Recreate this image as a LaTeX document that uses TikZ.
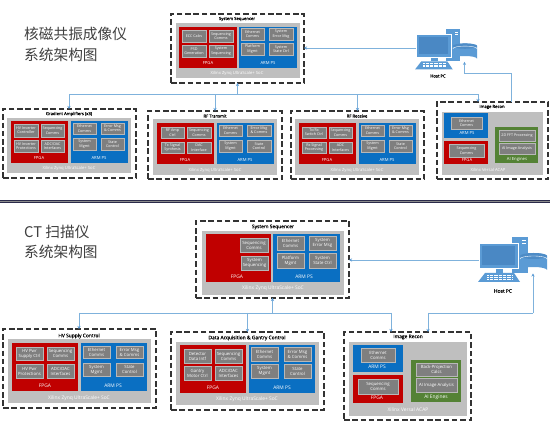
\documentclass[tikz,border=0pt]{standalone}
\usepackage{fontspec}
\setmainfont{Open Sans}
\newfontfamily\cjkfam{Noto Sans CJK SC}
\newfontfamily\semifam[FakeBold=0.3]{Open Sans}
\usetikzlibrary{arrows.meta}
\definecolor{cred}{HTML}{C00000}
\definecolor{cblue}{HTML}{0A6FC2}
\definecolor{cgreen}{HTML}{548235}
\definecolor{cgrey}{HTML}{BFBFBF}
\definecolor{cinner}{HTML}{7F7F7F}
\definecolor{cline}{HTML}{7FB2DC}
\definecolor{cicon}{HTML}{5B9BD5}
\definecolor{cicondk}{HTML}{4A88C4}
\definecolor{csep}{HTML}{2A2A4A}
\newcommand{\bx}[7]{\node[#6,minimum width={(#4-#2)*1pt},minimum height={(#5-#3)*1pt},inner sep=0pt,outer sep=0pt,align=center] (#1) at ({(#2+#4)/2},{(#3+#5)/2}) {#7};}
\newcommand{\lb}[5]{\node[#4,inner sep=0pt,align=center] (#1) at (#2,#3) {#5};}
\newcommand{\hostpc}[4]{%
\begin{scope}[shift={(#2,#3)},scale=#4]
 \fill[cicon] (34,0) rectangle (50,36);
 \fill[white] (44,3) rectangle (47.5,4.5);
 \fill[white] (44,6) rectangle (47.5,7);
 \fill[cicon] (18,30) rectangle (25,36);
 \node[transform shape,fill=cicon,draw=white,line width=.4pt,minimum width=39pt,minimum height=25pt,inner sep=0pt] (#1mon) at (20.5,18.5) {};
 \fill[cicondk] (4,9) rectangle (37,28);
 \fill[cicon] (0,45) -- (7,36) -- (36,36) -- (42,45) -- cycle;
 \foreach \yy in {38,40,42}{\draw[white,line width=.6pt,dash pattern=on .8pt off .5pt] (9,\yy) -- (34,\yy);}
 \fill[cicon] (42,19) arc[start angle=180,end angle=360,x radius=13.5,y radius=3] -- (69,33) arc[start angle=360,end angle=180,x radius=13.5,y radius=3] -- cycle;
 \fill[cicondk!80!cicon] (42,19) arc[start angle=180,end angle=360,x radius=13.5,y radius=3] arc[start angle=0,end angle=180,x radius=13.5,y radius=3] -- cycle;
 \draw[white,line width=.4pt] (42,22) arc[start angle=180,end angle=360,x radius=13.5,y radius=3];
 \coordinate (#1cyl) at (55,36.5);
\end{scope}}
\tikzset{
 dashbox/.style={draw=black!80,line width=1.2pt,dash pattern=on 5.5pt off 2.8pt,fill=white},
 greybox/.style={fill=cgrey},
 redbox/.style={fill=cred},
 bluebox/.style={fill=cblue},
 greenbox/.style={fill=cgreen},
 cell/.style={fill=cinner,draw=black!28,line width=.5pt,text=white,font=\cellfont},
 title/.style={text=black,font=\semifam\titlefont},
 wlabel/.style={text=white,font=\titlefont},
 soclabel/.style={text=white,font=\titlefont},
 heading/.style={anchor=west,text=black!75,font=\cjkfam\fontsize{14.7}{17}\selectfont},
 conn/.style={draw=cline,line width=.75pt},
 arrowed/.style={conn,-{Stealth[length=3pt,width=3pt,color=cicon]}},
}
\begin{document}
\begin{tikzpicture}[x=1pt,y=-1pt]
\useasboundingbox (0,0) rectangle (550,435);
\fill[white] (0,0) rectangle (550,435);
\def\cellfont{\fontsize{3.7}{4.4}\selectfont}
\def\titlefont{\fontsize{4.2}{5}\selectfont}

% --- MRI ---
\lb{h1}{24}{34}{heading}{核磁共振成像仪}
\lb{h2}{24}{55}{heading}{系统架构图}

% System Sequencer
\bx{seq}{171}{14}{304}{83}{dashbox}{}
\bx{seqg}{176}{23}{300}{78}{greybox}{}
\bx{seqr}{179}{27}{237}{68}{redbox}{}
\bx{seqb}{239}{27}{297}{68}{bluebox}{}
\lb{seqt}{237}{19}{title}{System Sequencer}
\bx{seqa}{182}{30}{206}{42}{cell}{ECC Calcs}
\bx{seqc}{209}{30}{233}{42}{cell}{Sequencing\\Comms}
\bx{seqd}{182}{45}{206}{57}{cell}{PSD\\Generation}
\bx{seqe}{209}{45}{233}{57}{cell}{System\\Sequencing}
\bx{seqf}{241}{28}{264}{40}{cell}{Ethernet\\Comms}
\bx{seqh}{269}{28}{293}{40}{cell}{System\\Error Msg}
\bx{seqi}{241}{43}{264}{55}{cell}{Platform\\Mgmt}
\bx{seqj}{269}{43}{293}{55}{cell}{System\\State Ctrl}
\lb{seqk}{208}{63}{wlabel}{FPGA}
\lb{seql}{268}{63}{wlabel}{ARM PS}
\lb{seqm}{237}{73}{soclabel}{Xilinx Zynq UltraScale+ SoC}

% Gradient Amplifiers
\bx{gr}{3}{109}{136}{178}{dashbox}{}
\bx{grg}{7}{118}{131}{173}{greybox}{}
\bx{grr}{11}{121}{68}{163}{redbox}{}
\bx{grb}{71}{121}{128}{163}{bluebox}{}
\lb{grt}{69}{114}{title}{Gradient Amplifiers (x3)}
\bx{gra}{14}{124}{38}{137}{cell}{HV Inverter\\Controller}
\bx{grc}{41}{124}{64}{137}{cell}{Sequencing\\Comms}
\bx{grd}{14}{140}{38}{152}{cell}{HV Inverter\\Protections}
\bx{gre}{41}{140}{64}{152}{cell}{ADC/DAC\\Interfaces}
\bx{grf}{73}{123}{96}{134}{cell}{Ethernet\\Comms}
\bx{grh}{101}{123}{124}{134}{cell}{Error Msg\\\& Comms}
\bx{gri}{73}{138}{96}{150}{cell}{System\\Mgmt}
\bx{grj}{101}{138}{124}{150}{cell}{State\\Control}
\lb{grk}{39}{158}{wlabel}{FPGA}
\lb{grl}{99}{158}{wlabel}{ARM PS}
\lb{grm}{69}{168}{soclabel}{Xilinx Zynq UltraScale+ SoC}

% RF Transmit
\bx{tx}{148}{111}{282}{179}{dashbox}{}
\bx{txg}{153}{119}{277}{175}{greybox}{}
\bx{txr}{157}{123}{214}{164}{redbox}{}
\bx{txb}{217}{123}{274}{164}{bluebox}{}
\lb{txt}{215}{116}{title}{RF Transmit}
\bx{txa}{161}{127}{184}{138}{cell}{RF Amp\\Ctrl}
\bx{txc}{187}{127}{211}{138}{cell}{Sequencing\\Comms}
\bx{txd}{161}{142}{184}{153}{cell}{Tx Signal\\Synthesis}
\bx{txe}{187}{142}{211}{153}{cell}{DAC\\Interface}
\bx{txf}{219}{125}{242}{136}{cell}{Ethernet\\Comms}
\bx{txh}{247}{125}{271}{136}{cell}{Error Msg\\\& Comms}
\bx{txi}{219}{140}{242}{152}{cell}{System\\Mgmt}
\bx{txj}{247}{140}{271}{152}{cell}{State\\Control}
\lb{txk}{185}{160}{wlabel}{FPGA}
\lb{txl}{245}{160}{wlabel}{ARM PS}
\lb{txm}{215}{170}{soclabel}{Xilinx Zynq UltraScale+ SoC}

% RF Receive
\bx{rx}{291}{111}{424}{179}{dashbox}{}
\bx{rxg}{295}{119}{419}{175}{greybox}{}
\bx{rxr}{299}{123}{356}{164}{redbox}{}
\bx{rxb}{359}{123}{416}{164}{bluebox}{}
\lb{rxt}{357}{116}{title}{RF Receive}
\bx{rxa}{302}{127}{326}{138}{cell}{Tx/Rx\\Switch Ctrl}
\bx{rxc}{329}{127}{352}{138}{cell}{Sequencing\\Comms}
\bx{rxd}{302}{142}{326}{153}{cell}{Rx Signal\\Processing}
\bx{rxe}{329}{142}{352}{153}{cell}{ADC\\Interfaces}
\bx{rxf}{361}{125}{384}{136}{cell}{Ethernet\\Comms}
\bx{rxh}{389}{125}{412}{136}{cell}{Error Msg\\\& Comms}
\bx{rxi}{361}{140}{384}{152}{cell}{System\\Mgmt}
\bx{rxj}{389}{140}{412}{152}{cell}{State\\Control}
\lb{rxk}{327}{160}{wlabel}{FPGA}
\lb{rxl}{387}{160}{wlabel}{ARM PS}
\lb{rxm}{357}{170}{soclabel}{Xilinx Zynq UltraScale+ SoC}

% Image Recon
\bx{ir}{437}{102}{548}{179}{dashbox}{}
\bx{irg}{442}{112}{543}{175}{greybox}{}
\bx{irb}{444}{113}{488}{138}{bluebox}{}
\bx{irr}{444}{141}{488}{164}{redbox}{}
\bx{irv}{495}{127}{538}{163}{greenbox}{}
\lb{irt}{492}{107}{title}{Image Recon}
\bx{ira}{451}{117}{482}{129}{cell}{Ethernet\\Comms}
\bx{irc}{449}{144}{484}{157}{cell}{Sequencing\\Comms}
\bx{ird}{499}{130}{535}{141}{cell}{2D FFT Processing}
\bx{ire}{499}{143}{535}{154}{cell}{AI Image Analysis}
\lb{irk}{467}{133}{wlabel}{ARM PS}
\lb{irl}{467}{160}{wlabel}{FPGA}
\lb{irn}{517}{159}{wlabel}{AI Engines}
\lb{irm}{488}{170}{soclabel}{Xilinx Versal ACAP}

% Host PC (MRI)
\hostpc{pa}{415}{29}{.9}
\lb{pat}{438}{76}{title}{Host PC}

% Connectors (MRI)
\coordinate (busa) at (237,94.5);
\coordinate (ela) at (511,73);
\coordinate (lka) at (418,48);
\draw[arrowed] (pamon.west |- lka) -- (seq.east |- lka);
\draw[arrowed] (seq.south |- busa) -- (seq.south);
\coordinate (busal) at (grt.north |- busa);
\coordinate (busar) at (478,94.5);
\draw[conn] (busal) -- (busar);
\draw[arrowed] (busal) -- (gr.north -| busal);
\draw[arrowed] (tx.north |- busa) -- (tx.north);
\draw[arrowed] (rx.north |- busa) -- (rx.north);
\draw[arrowed] (busar) -- (ir.north -| busar);
\draw[arrowed] (ir.north -| ela) -- (ela) -| (pacyl);

% Separator
\fill[csep] (0,200) rectangle (550,203.2);
\fill[black!45] (0,201.2) rectangle (550,202);

% --- CT ---
\def\cellfont{\fontsize{4.3}{5}\selectfont}
\def\titlefont{\fontsize{4.9}{5.8}\selectfont}
\lb{h3}{24}{232}{heading}{CT 扫描仪}
\lb{h4}{24}{252}{heading}{系统架构图}

% System Sequencer
\bx{sq}{196}{221}{349}{298}{dashbox}{}
\bx{sqg}{202}{231}{344}{295}{greybox}{}
\bx{sqr}{206}{234}{271}{282}{redbox}{}
\bx{sqb}{273}{234}{340}{282}{bluebox}{}
\lb{sqt}{273}{227}{title}{System Sequencer}
\bx{sqc}{240}{238}{268}{252}{cell}{Sequencing\\Comms}
\bx{sqe}{241}{256}{268}{270}{cell}{System\\Sequencing}
\bx{sqf}{277}{236}{304}{250}{cell}{Ethernet\\Comms}
\bx{sqh}{309}{236}{336}{250}{cell}{System\\Error Msg}
\bx{sqi}{277}{253}{304}{268}{cell}{Platform\\Mgmt}
\bx{sqj}{309}{253}{336}{268}{cell}{System\\State Ctrl}
\lb{sqk}{237}{277}{wlabel}{FPGA}
\lb{sql}{304}{277}{wlabel}{ARM PS}
\lb{sqm}{273}{288}{soclabel}{Xilinx Zynq UltraScale+ SoC}

% HV Supply Control
\bx{hv}{3}{329}{156}{408}{dashbox}{}
\bx{hvg}{8}{339}{151}{403}{greybox}{}
\bx{hvr}{12}{343}{78}{391}{redbox}{}
\bx{hvb}{81}{343}{147}{391}{bluebox}{}
\lb{hvt}{79}{336}{title}{HV Supply Control}
\bx{hva}{16}{347}{43}{360}{cell}{HV Pwr\\Supply Ctrl}
\bx{hvc}{47}{347}{74}{360}{cell}{Sequencing\\Comms}
\bx{hvd}{16}{364}{43}{378}{cell}{HV Pwr\\Protections}
\bx{hve}{47}{364}{74}{378}{cell}{ADC/DAC\\Interfaces}
\bx{hvf}{83}{346}{110}{358}{cell}{Ethernet\\Comms}
\bx{hvh}{116}{346}{143}{358}{cell}{Error Msg\\\& Comms}
\bx{hvi}{83}{363}{110}{376}{cell}{System\\Mgmt}
\bx{hvj}{116}{363}{143}{376}{cell}{State\\Control}
\lb{hvk}{45}{386}{wlabel}{FPGA}
\lb{hvl}{113}{386}{wlabel}{ARM PS}
\lb{hvm}{79}{398}{soclabel}{Xilinx Zynq UltraScale+ SoC}

% Data Acquisition
\bx{da}{171}{332}{324}{410}{dashbox}{}
\bx{dag}{176}{342}{319}{405}{greybox}{}
\bx{dar}{180}{345}{246}{393}{redbox}{}
\bx{dab}{249}{345}{315}{393}{bluebox}{}
\lb{dat}{247}{338}{title}{Data Acquisition \& Gantry Control}
\bx{daa}{184}{349}{211}{363}{cell}{Detector\\Data Intf}
\bx{dac}{215}{349}{242}{363}{cell}{Sequencing\\Comms}
\bx{dad}{184}{366}{211}{380}{cell}{Gantry\\Motor Ctrl}
\bx{dae}{215}{366}{242}{380}{cell}{ADC/DAC\\Interfaces}
\bx{daf}{251}{347}{278}{361}{cell}{Ethernet\\Comms}
\bx{dah}{284}{347}{311}{361}{cell}{Error Msg\\\& Comms}
\bx{dai}{251}{364}{278}{378}{cell}{System\\Mgmt}
\bx{daj}{284}{364}{311}{378}{cell}{State\\Control}
\lb{dak}{213}{388}{wlabel}{FPGA}
\lb{dal}{282}{388}{wlabel}{ARM PS}
\lb{dam}{247}{399}{soclabel}{Xilinx Zynq UltraScale+ SoC}

% Image Recon
\bx{im}{344}{332}{471}{420}{dashbox}{}
\bx{img}{349}{342}{467}{416}{greybox}{}
\bx{imb}{353}{345}{403}{372}{bluebox}{}
\bx{imr}{353}{375}{403}{403}{redbox}{}
\bx{imv}{411}{360}{461}{402}{greenbox}{}
\lb{imt}{408}{337}{title}{Image Recon}
\bx{ima}{361}{348}{395}{362}{cell}{Ethernet\\Comms}
\bx{imc}{358}{379}{398}{394}{cell}{Sequencing\\Comms}
\bx{imd}{416}{363}{457}{376}{cell}{Back-Projection\\Calcs}
\bx{ime}{416}{378}{457}{392}{cell}{AI Image Analysis}
\lb{imk}{377}{367}{wlabel}{ARM PS}
\lb{iml}{377}{398}{wlabel}{FPGA}
\lb{imn}{436}{397}{wlabel}{AI Engines}
\lb{imm}{408}{410}{soclabel}{Xilinx Versal ACAP}

% Host PC (CT)
\hostpc{pb}{478}{237}{1}
\lb{pbt}{503}{291}{title}{Host PC}

% Connectors (CT)
\coordinate (busb) at (273,313);
\coordinate (elb) at (428,313);
\coordinate (lkb) at (478,260);
\draw[arrowed] (pbmon.west |- lkb) -- (sq.east |- lkb);
\draw[arrowed] (sq.south |- busb) -- (sq.south);
\coordinate (busbl) at (hvt.north |- busb);
\coordinate (busbr) at (391,313);
\draw[conn] (busbl) -- (busbr);
\draw[arrowed] (busbl) -- (hv.north -| busbl);
\draw[arrowed] (da.north |- busb) -- (da.north);
\draw[arrowed] (busbr) -- (im.north -| busbr);
\draw[arrowed] (pbcyl |- elb) -- (pbcyl);
\draw[conn] (pbcyl |- elb) -- (elb);
\draw[arrowed] (elb) -- (im.north -| elb);
\end{tikzpicture}
\end{document}
